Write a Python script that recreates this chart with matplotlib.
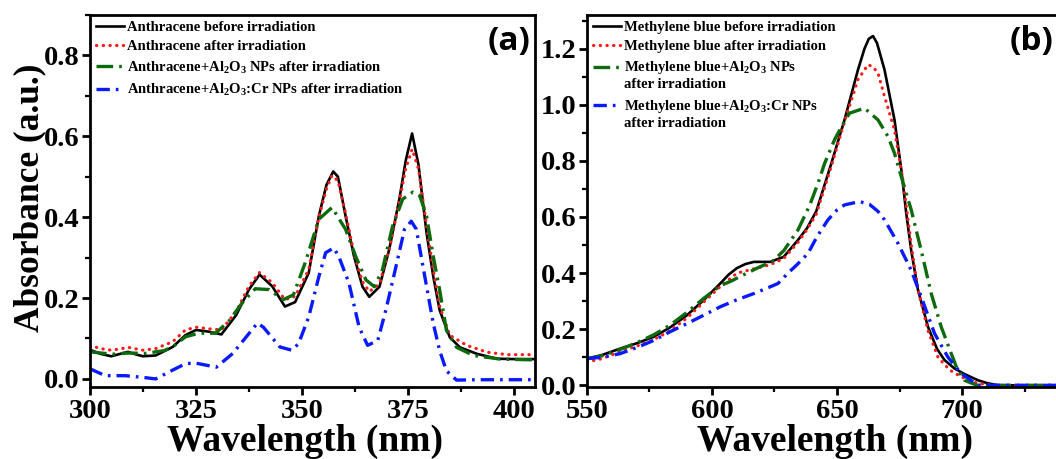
import numpy as np
import matplotlib
matplotlib.use("Agg")
import matplotlib.pyplot as plt
from matplotlib.ticker import MultipleLocator

plt.rcParams.update({
    "font.family": "Liberation Serif",
    "font.weight": "bold",
    "mathtext.fontset": "custom",
    "mathtext.rm": "Liberation Serif:bold",
    "mathtext.it": "Liberation Serif:bold",
    "mathtext.bf": "Liberation Serif:bold",
    "axes.linewidth": 2.0,
})

# ---- panel (a): anthracene ------------------------------------------------
wl_a_before = [300, 302.5, 305, 307.5, 309, 311, 312.5, 315.5, 319.5, 322.5, 325, 328, 331,
               334.5, 337.5, 340, 343, 346, 348.4, 351.6, 354, 355.8, 357.4, 358.5, 360.3,
               362.3, 364.3, 365.9, 368.3, 370.6, 373, 374.5, 376, 377.5, 379.4, 381, 382.5,
               384.9, 387.3, 391.3, 396, 400, 405]
abs_a_before = [0.072, 0.062, 0.056, 0.063, 0.067, 0.060, 0.056, 0.058, 0.079, 0.108, 0.121,
                0.117, 0.110, 0.158, 0.221, 0.258, 0.229, 0.179, 0.190, 0.262, 0.403, 0.480,
                0.513, 0.500, 0.403, 0.303, 0.228, 0.203, 0.228, 0.320, 0.445, 0.540, 0.607,
                0.530, 0.362, 0.253, 0.170, 0.103, 0.078, 0.062, 0.050, 0.049, 0.049]

wl_a_after = [300, 302.5, 305, 307.5, 309, 311, 312.5, 315.5, 319.5, 322.5, 325, 328, 331,
              334.5, 337.5, 340, 343, 346, 348.4, 351.6, 354, 355.8, 357.1, 358.5, 360.3,
              362.3, 364.3, 365.9, 368.3, 370.6, 373, 374.5, 376, 377.5, 379.4, 381, 382.5,
              384.9, 388.9, 393.7, 398.4, 405]
abs_a_after = [0.083, 0.075, 0.071, 0.075, 0.078, 0.074, 0.071, 0.075, 0.092, 0.121, 0.128,
               0.124, 0.121, 0.167, 0.229, 0.263, 0.238, 0.196, 0.204, 0.270, 0.400, 0.470,
               0.503, 0.490, 0.410, 0.310, 0.240, 0.216, 0.235, 0.320, 0.440, 0.520, 0.568,
               0.520, 0.380, 0.270, 0.180, 0.108, 0.083, 0.066, 0.060, 0.060]

wl_a_al2o3 = [300, 305.2, 309, 313, 317.5, 319.5, 322.5, 325.6, 329.6, 332.7, 335.9, 339,
              342.2, 345.6, 348, 350.8, 354, 357.1, 360.3, 362.7, 365.1, 367.1, 369, 371.4,
              373.8, 376.2, 377.8, 379.4, 381, 382.5, 384.1, 386.5, 390.5, 396.8, 405]
abs_a_al2o3 = [0.067, 0.061, 0.064, 0.063, 0.070, 0.079, 0.104, 0.113, 0.113, 0.142, 0.188,
               0.223, 0.221, 0.196, 0.208, 0.288, 0.395, 0.424, 0.370, 0.303, 0.245, 0.228,
               0.270, 0.378, 0.445, 0.462, 0.453, 0.403, 0.303, 0.220, 0.120, 0.078, 0.058,
               0.049, 0.047]

wl_a_cr = [300, 303.6, 308.3, 312.3, 315.5, 318.6, 322.6, 325, 329.8, 333.7, 339.5, 340.9,
           344.8, 347.6, 349.2, 351.6, 354, 355.6, 357.5, 358.7, 361.1, 363.5, 365.5, 367.9,
           369.8, 372.2, 374.2, 375.8, 377, 379, 381, 382.5, 384.1, 386.5, 391.3, 405]
abs_a_cr = [0.025, 0.008, 0.008, 0.004, 0.000, 0.017, 0.038, 0.039, 0.029, 0.063, 0.138,
            0.128, 0.079, 0.071, 0.087, 0.153, 0.253, 0.312, 0.324, 0.303, 0.237, 0.128,
            0.083, 0.095, 0.170, 0.278, 0.370, 0.390, 0.370, 0.253, 0.137, 0.070, 0.020,
            -0.003, -0.002, -0.002]

# ---- panel (b): methylene blue ---------------------------------------------
wl_b_before = [550, 556, 563.3, 570, 576.7, 583, 590, 596.7, 603.3, 606.7, 610, 613.3, 616.7,
               623.3, 628.7, 634.4, 638, 641.7, 647.7, 653, 658.4, 661, 662.7, 664.4, 666, 669,
               673, 675.7, 677.7, 679.7, 682.4, 686.4, 690, 693, 697, 701, 706.4, 710, 714.4,
               770]
abs_b_before = [0.095, 0.108, 0.131, 0.150, 0.173, 0.205, 0.250, 0.304, 0.363, 0.395, 0.418,
                0.432, 0.440, 0.440, 0.458, 0.518, 0.560, 0.620, 0.790, 0.946, 1.125, 1.200,
                1.235, 1.245, 1.220, 1.125, 0.946, 0.770, 0.613, 0.480, 0.340, 0.208, 0.130,
                0.090, 0.060, 0.040, 0.018, 0.008, 0.000, 0.000]

wl_b_after = [550, 556, 563.3, 570, 576.7, 583, 590, 596.7, 603.3, 610, 616.7, 623.3, 628.7,
              634.4, 638, 641.7, 647.7, 653, 658.4, 662.4, 664.4, 666.4, 669, 673, 676.4,
              677.7, 679.7, 682.4, 686.4, 690.4, 695, 699.7, 706, 712, 770]
abs_b_after = [0.083, 0.095, 0.120, 0.140, 0.163, 0.193, 0.240, 0.297, 0.352, 0.400, 0.415,
               0.430, 0.452, 0.510, 0.555, 0.610, 0.780, 0.940, 1.090, 1.143, 1.135, 1.113,
               1.030, 0.910, 0.730, 0.640, 0.500, 0.340, 0.195, 0.100, 0.055, 0.030, 0.008,
               0.000, 0.000]

wl_b_al2o3 = [550, 556, 563.3, 570, 576.7, 583.3, 590, 596.7, 603.3, 607.3, 614, 619.3, 624,
              628.7, 634.4, 639, 642.4, 645, 649, 651.7, 655, 661, 666.4, 670.4, 673, 675.7,
              679.7, 683.7, 687.7, 691.7, 695.7, 698, 701, 706, 770]
abs_b_al2o3 = [0.095, 0.105, 0.128, 0.152, 0.180, 0.215, 0.260, 0.310, 0.355, 0.370, 0.400,
               0.423, 0.440, 0.480, 0.554, 0.640, 0.720, 0.790, 0.875, 0.920, 0.970, 0.988,
               0.946, 0.887, 0.827, 0.744, 0.625, 0.480, 0.327, 0.208, 0.113, 0.060, 0.018,
               0.000, 0.000]

wl_b_cr = [550, 556, 563.3, 570, 576.7, 583, 590, 596.7, 603.3, 610, 616.7, 623, 626.4, 630.4,
           634, 638.4, 642, 646.4, 650, 653, 659, 663, 666.4, 669, 674.4, 679.7, 683.7, 689,
           694.4, 699.7, 706.4, 770]
abs_b_cr = [0.095, 0.100, 0.113, 0.135, 0.160, 0.190, 0.220, 0.250, 0.280, 0.305, 0.327,
            0.350, 0.363, 0.400, 0.430, 0.470, 0.530, 0.590, 0.625, 0.643, 0.655, 0.645,
            0.620, 0.590, 0.506, 0.410, 0.315, 0.185, 0.100, 0.042, 0.000, 0.000]

labels_a = ["Anthracene before irradiation",
            "Anthracene after irradiation",
            r"Anthracene+Al$_2$O$_3$ NPs after irradiation",
            r"Anthracene+Al$_2$O$_3$:Cr NPs after irradiation"]
labels_b = ["Methylene blue before irradiation",
            "Methylene blue after irradiation",
            "Methylene blue+Al$_2$O$_3$ NPs\nafter irradiation",
            "Methylene blue+Al$_2$O$_3$:Cr NPs\nafter irradiation"]

GREEN = "#0d6b0d"
styles = [
    dict(color="black", lw=1.9, ls="-"),
    dict(color="#ff1a1a", lw=2.3, ls=(0, (0.1, 2.0)), dash_capstyle="round"),
    dict(color=GREEN, lw=2.4, ls=(0, (5, 1.8, 0.8, 1.8))),
    dict(color="#0a1aff", lw=2.4, ls=(0, (4, 1.8, 0.8, 1.8))),
]

W, H = 1056, 459
fig = plt.figure(figsize=(W / 100, H / 100), dpi=100)
ax1 = fig.add_axes([90 / W, 1 - 387 / H, 445 / W, 372 / H])
ax2 = fig.add_axes([587 / W, 1 - 387 / H, 540 / W, 372 / H])


def style_axes(ax):
    ax.tick_params(which="major", direction="out", length=6, width=2, labelsize=20.5, pad=1.5)
    ax.tick_params(which="minor", direction="out", length=3.5, width=1.6)
    ax.tick_params(top=False, right=False, which="both")
    ax.tick_params(axis="x", which="major", pad=3)
    for lab in ax.get_xticklabels() + ax.get_yticklabels():
        lab.set_fontweight("bold")


LEG_KW = dict(loc="upper left", frameon=False, handlelength=1.9, handletextpad=0.25,
              labelspacing=0.42, borderaxespad=0.1, borderpad=0.3,
              prop={"weight": "bold", "size": 10.5})

# (a)
for x, y, lab, st in zip([wl_a_before, wl_a_after, wl_a_al2o3, wl_a_cr],
                         [abs_a_before, abs_a_after, abs_a_al2o3, abs_a_cr],
                         labels_a, styles):
    ax1.plot(x, y, label=lab, **st)
ax1.set_xlim(300, 405)
ax1.set_ylim(-0.02, 0.9)
ax1.xaxis.set_major_locator(MultipleLocator(25))
ax1.xaxis.set_minor_locator(MultipleLocator(12.5))
ax1.yaxis.set_major_locator(MultipleLocator(0.2))
ax1.yaxis.set_minor_locator(MultipleLocator(0.1))
ax1.yaxis.set_major_formatter(plt.FormatStrFormatter("%.1f"))
style_axes(ax1)
ax1.set_xlabel("Wavelength (nm)", fontsize=27, fontweight="bold")
ax1.xaxis.set_label_coords((305 - 90) / 445, -0.1)
ax1.set_ylabel("Absorbance (a.u.)", fontsize=25.5, fontweight="bold")
ax1.yaxis.set_label_coords((46 - 90) / 445, (387 - 197.5) / 372)
ax1.text(0.991, 0.93, "(a)", transform=ax1.transAxes, ha="right", va="center",
         fontsize=24, fontweight="bold", family="Open Sans")
ax1.legend(**LEG_KW)

# (b)
for x, y, lab, st in zip([wl_b_before, wl_b_after, wl_b_al2o3, wl_b_cr],
                         [abs_b_before, abs_b_after, abs_b_al2o3, abs_b_cr],
                         labels_b, styles):
    ax2.plot(x, y, label=lab, **st)
ax2.set_xlim(550, 550 + 540 / 2.5)
ax2.set_ylim(-0.006, 1.32)
ax2.xaxis.set_major_locator(MultipleLocator(50))
ax2.xaxis.set_minor_locator(MultipleLocator(25))
ax2.yaxis.set_major_locator(MultipleLocator(0.2))
ax2.yaxis.set_minor_locator(MultipleLocator(0.1))
ax2.yaxis.set_major_formatter(plt.FormatStrFormatter("%.1f"))
style_axes(ax2)
ax2.set_xlabel("Wavelength (nm)", fontsize=27, fontweight="bold")
ax2.xaxis.set_label_coords((835 - 587) / 540, -0.1)
ax2.text((1010 - 587) / 540, 0.93, "(b)", transform=ax2.transAxes, ha="left", va="center",
         fontsize=24, fontweight="bold", family="Open Sans")
leg2 = ax2.legend(**LEG_KW)
# put the handle of the two-line entries next to their first line
for h in leg2.legend_handles[2:]:
    h.set_ydata(np.asarray(h.get_ydata()) + 6.3)

fig.savefig("out.png", dpi=100)
